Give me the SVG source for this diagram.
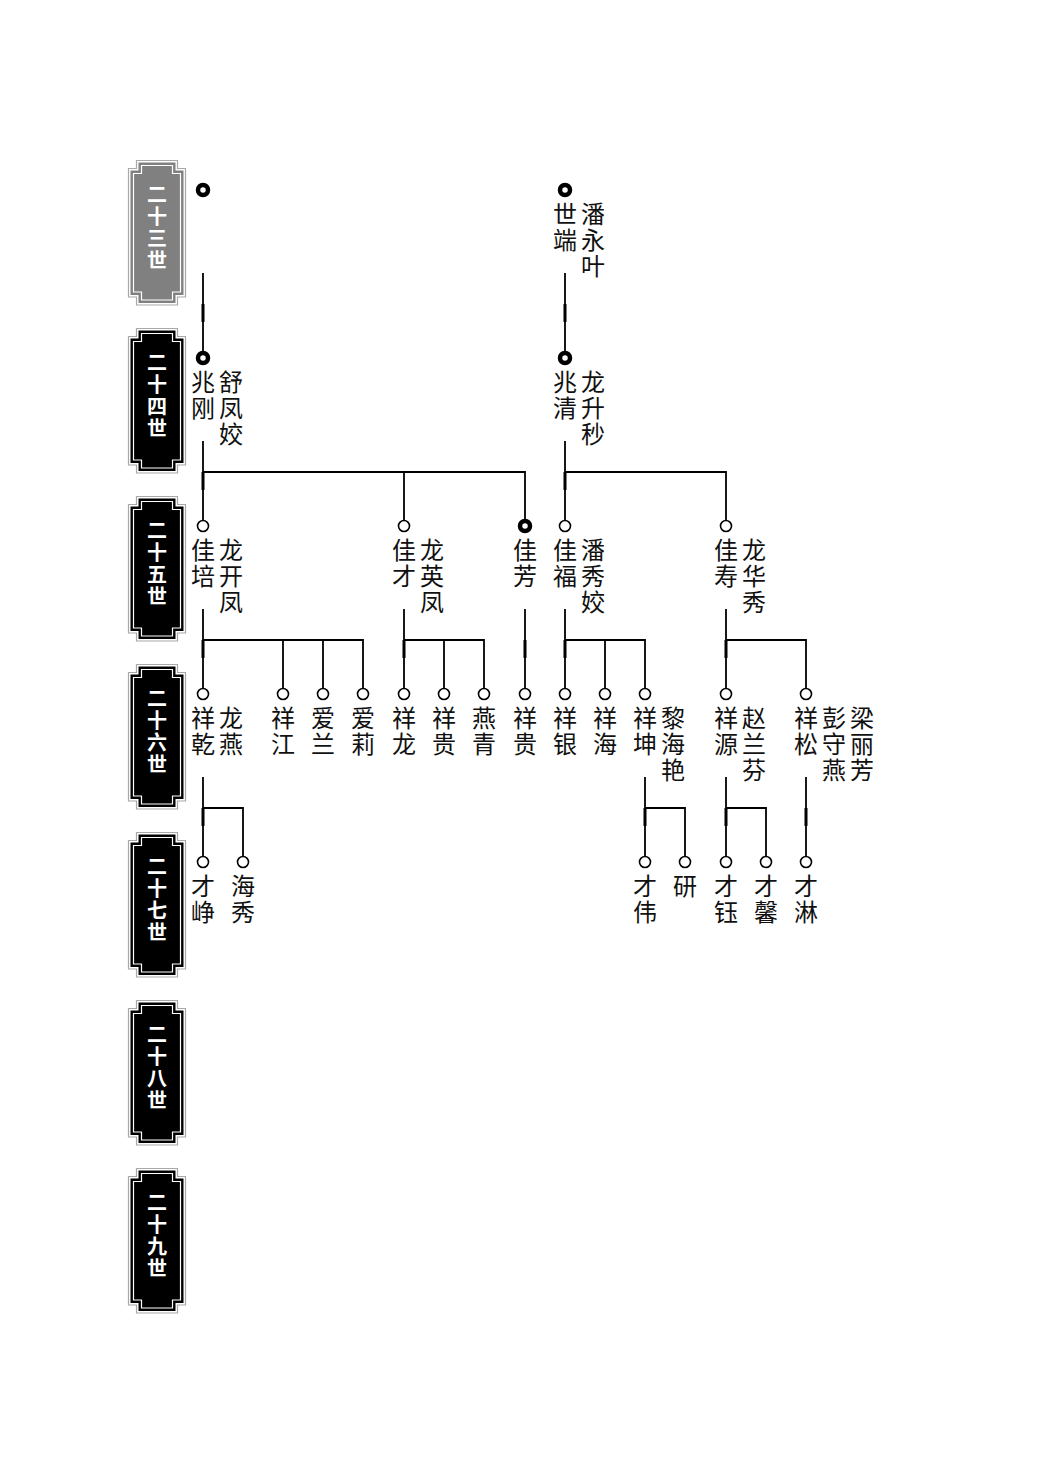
<svg xmlns="http://www.w3.org/2000/svg" width="1041" height="1473" viewBox="0 0 1041 1473">
<style>
.bo{fill:#fff;stroke:#a8a8a8;stroke-width:1.2}
.bf{fill:#000}
.bf.g{fill:#808080}
.bi{fill:none;stroke:#fff;stroke-width:1.2}
.bt{font-family:"Noto Sans CJK SC","Noto Sans CJK TC",sans-serif;font-size:20px;font-weight:bold;fill:#fff;writing-mode:vertical-rl;letter-spacing:2px}
.nm{font-family:"Noto Sans CJK SC","Noto Sans CJK TC",sans-serif;font-size:24px;fill:#111;writing-mode:vertical-rl;letter-spacing:2px}
.c{fill:#fff;stroke:#000;stroke-width:1.6}
.cb{fill:#fff;stroke:#000;stroke-width:4.5}
.ln{fill:none;stroke:#000;stroke-width:1.8;stroke-linejoin:miter}
.tk{fill:#000}
</style>
<defs>
<path id="pOut" d="M136.5,0.5 H177.5 V8.5 H185.5 V137 H177.5 V145 H136.5 V137 H128.5 V8.5 H136.5 Z"/>
<path id="pFill" d="M138.5,2.5 H175.5 V10.5 H183.5 V135 H175.5 V143 H138.5 V135 H130.5 V10.5 H138.5 Z"/>
<path id="pIn" d="M141.5,5.5 H172.5 V13.5 H180.5 V132 H172.5 V140 H141.5 V132 H133.5 V13.5 H141.5 Z"/>
</defs>

<g id="banners">
<g id="gen23" transform="translate(0,160)">
<use href="#pOut" class="bo"/><use href="#pFill" class="bf g"/><use href="#pIn" class="bi"/>
<text class="bt" x="157" y="24">二十三世</text>
</g>
<g id="gen24" transform="translate(0,328)">
<use href="#pOut" class="bo"/><use href="#pFill" class="bf"/><use href="#pIn" class="bi"/>
<text class="bt" x="157" y="24">二十四世</text>
</g>
<g id="gen25" transform="translate(0,496)">
<use href="#pOut" class="bo"/><use href="#pFill" class="bf"/><use href="#pIn" class="bi"/>
<text class="bt" x="157" y="24">二十五世</text>
</g>
<g id="gen26" transform="translate(0,664)">
<use href="#pOut" class="bo"/><use href="#pFill" class="bf"/><use href="#pIn" class="bi"/>
<text class="bt" x="157" y="24">二十六世</text>
</g>
<g id="gen27" transform="translate(0,832)">
<use href="#pOut" class="bo"/><use href="#pFill" class="bf"/><use href="#pIn" class="bi"/>
<text class="bt" x="157" y="24">二十七世</text>
</g>
<g id="gen28" transform="translate(0,1000)">
<use href="#pOut" class="bo"/><use href="#pFill" class="bf"/><use href="#pIn" class="bi"/>
<text class="bt" x="157" y="24">二十八世</text>
</g>
<g id="gen29" transform="translate(0,1168)">
<use href="#pOut" class="bo"/><use href="#pFill" class="bf"/><use href="#pIn" class="bi"/>
<text class="bt" x="157" y="24">二十九世</text>
</g>
</g>

<g id="connectors">
<path class="ln" d="M203,273 V352 M565,273 V352"/>
<rect class="tk" x="201.5" y="304" width="3" height="18"/>
<rect class="tk" x="563.5" y="304" width="3" height="18"/>

<path class="ln" d="M203,441 V520 M203,472 H525 V519 M404,472 V520"/>
<rect class="tk" x="201.5" y="472" width="3" height="18"/>
<path class="ln" d="M565,441 V520 M565,472 H726 V520"/>
<rect class="tk" x="563.5" y="472" width="3" height="18"/>

<path class="ln" d="M203,609 V688 M203,640 H363 V688 M283,640 V688 M323,640 V688"/>
<rect class="tk" x="201.5" y="640" width="3" height="18"/>
<path class="ln" d="M404,609 V688 M404,640 H484 V688 M444,640 V688"/>
<rect class="tk" x="402.5" y="640" width="3" height="18"/>
<path class="ln" d="M525,609 V688"/>
<rect class="tk" x="523.5" y="640" width="3" height="18"/>
<path class="ln" d="M565,609 V688 M565,640 H645 V688 M605,640 V688"/>
<rect class="tk" x="563.5" y="640" width="3" height="18"/>
<path class="ln" d="M726,609 V688 M726,640 H806 V688"/>
<rect class="tk" x="724.5" y="640" width="3" height="18"/>

<path class="ln" d="M203,777 V856 M203,808 H243 V856"/>
<rect class="tk" x="201.5" y="808" width="3" height="18"/>
<path class="ln" d="M645,777 V856 M645,808 H685 V856"/>
<rect class="tk" x="643.5" y="808" width="3" height="18"/>
<path class="ln" d="M726,777 V856 M726,808 H766 V856"/>
<rect class="tk" x="724.5" y="808" width="3" height="18"/>
<path class="ln" d="M806,777 V856"/>
<rect class="tk" x="804.5" y="808" width="3" height="18"/>
</g>

<g id="nodes">
<g id="n23a"><circle class="cb" cx="203" cy="190" r="5"/></g>
<g id="n23b"><circle class="cb" cx="565" cy="190" r="5"/>
<text class="nm" x="565" y="202">世端</text>
<text class="nm" x="593" y="202">潘永叶</text></g>

<g id="n24a"><circle class="cb" cx="203" cy="358" r="5"/>
<text class="nm" x="203" y="370">兆刚</text>
<text class="nm" x="231" y="370">舒凤姣</text></g>
<g id="n24b"><circle class="cb" cx="565" cy="358" r="5"/>
<text class="nm" x="565" y="370">兆清</text>
<text class="nm" x="593" y="370">龙升秒</text></g>

<g id="n25a"><circle class="c" cx="203" cy="526" r="5.5"/>
<text class="nm" x="203" y="538">佳培</text>
<text class="nm" x="231" y="538">龙开凤</text></g>
<g id="n25b"><circle class="c" cx="404" cy="526" r="5.5"/>
<text class="nm" x="404" y="538">佳才</text>
<text class="nm" x="432" y="538">龙英凤</text></g>
<g id="n25c"><circle class="cb" cx="525" cy="526" r="5"/>
<text class="nm" x="525" y="538">佳芳</text></g>
<g id="n25d"><circle class="c" cx="565" cy="526" r="5.5"/>
<text class="nm" x="565" y="538">佳福</text>
<text class="nm" x="593" y="538">潘秀姣</text></g>
<g id="n25e"><circle class="c" cx="726" cy="526" r="5.5"/>
<text class="nm" x="726" y="538">佳寿</text>
<text class="nm" x="754" y="538">龙华秀</text></g>

<g id="n26a"><circle class="c" cx="203" cy="694" r="5.5"/>
<text class="nm" x="203" y="706">祥乾</text>
<text class="nm" x="231" y="706">龙燕</text></g>
<g id="n26b"><circle class="c" cx="283" cy="694" r="5.5"/>
<text class="nm" x="283" y="706">祥江</text></g>
<g id="n26c"><circle class="c" cx="323" cy="694" r="5.5"/>
<text class="nm" x="323" y="706">爱兰</text></g>
<g id="n26d"><circle class="c" cx="363" cy="694" r="5.5"/>
<text class="nm" x="363" y="706">爱莉</text></g>
<g id="n26e"><circle class="c" cx="404" cy="694" r="5.5"/>
<text class="nm" x="404" y="706">祥龙</text></g>
<g id="n26f"><circle class="c" cx="444" cy="694" r="5.5"/>
<text class="nm" x="444" y="706">祥贵</text></g>
<g id="n26g"><circle class="c" cx="484" cy="694" r="5.5"/>
<text class="nm" x="484" y="706">燕青</text></g>
<g id="n26h"><circle class="c" cx="525" cy="694" r="5.5"/>
<text class="nm" x="525" y="706">祥贵</text></g>
<g id="n26i"><circle class="c" cx="565" cy="694" r="5.5"/>
<text class="nm" x="565" y="706">祥银</text></g>
<g id="n26j"><circle class="c" cx="605" cy="694" r="5.5"/>
<text class="nm" x="605" y="706">祥海</text></g>
<g id="n26k"><circle class="c" cx="645" cy="694" r="5.5"/>
<text class="nm" x="645" y="706">祥坤</text>
<text class="nm" x="673" y="706">黎海艳</text></g>
<g id="n26l"><circle class="c" cx="726" cy="694" r="5.5"/>
<text class="nm" x="726" y="706">祥源</text>
<text class="nm" x="754" y="706">赵兰芬</text></g>
<g id="n26m"><circle class="c" cx="806" cy="694" r="5.5"/>
<text class="nm" x="806" y="706">祥松</text>
<text class="nm" x="834" y="706">彭守燕</text>
<text class="nm" x="862" y="706">梁丽芳</text></g>

<g id="n27a"><circle class="c" cx="203" cy="862" r="5.5"/>
<text class="nm" x="203" y="874">才峥</text></g>
<g id="n27b"><circle class="c" cx="243" cy="862" r="5.5"/>
<text class="nm" x="243" y="874">海秀</text></g>
<g id="n27c"><circle class="c" cx="645" cy="862" r="5.5"/>
<text class="nm" x="645" y="874">才伟</text></g>
<g id="n27d"><circle class="c" cx="685" cy="862" r="5.5"/>
<text class="nm" x="685" y="874">研</text></g>
<g id="n27e"><circle class="c" cx="726" cy="862" r="5.5"/>
<text class="nm" x="726" y="874">才钰</text></g>
<g id="n27f"><circle class="c" cx="766" cy="862" r="5.5"/>
<text class="nm" x="766" y="874">才馨</text></g>
<g id="n27g"><circle class="c" cx="806" cy="862" r="5.5"/>
<text class="nm" x="806" y="874">才淋</text></g>
</g>
</svg>
